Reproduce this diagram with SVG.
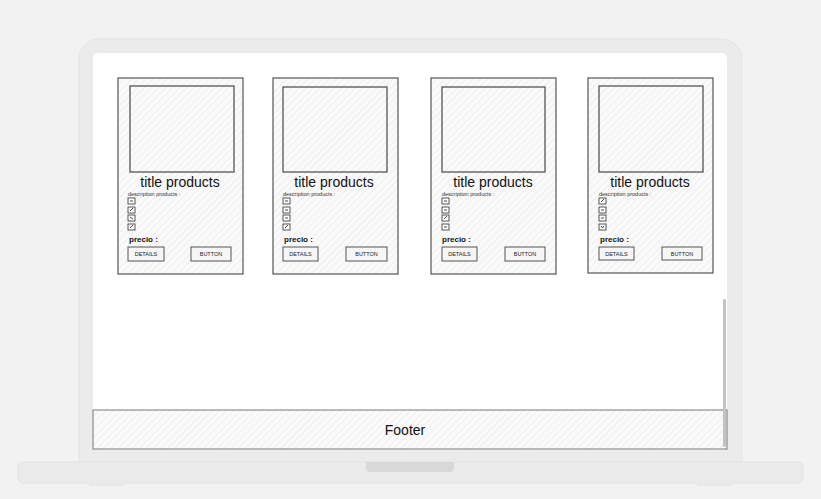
<svg xmlns="http://www.w3.org/2000/svg" width="821" height="499" viewBox="0 0 821 499">
  <style>
    .sk { fill: url(#hatch); stroke: #555; stroke-width: 1.2; }
    .img { fill: none; stroke: #555; stroke-width: 1.3; }
    .btn { fill: #f6f6f6; stroke: #555; stroke-width: 1; }
    .box { fill: #fff; stroke: #444; stroke-width: 0.9; }
    .mark { stroke: #333; stroke-width: 0.9; fill: none; }
    .t { font-family: "Liberation Sans", Arial, sans-serif; fill: #111; }
    .title { font-size: 14px; }
    .desc { font-size: 5.5px; fill: #333; }
    .price { font-size: 8px; font-weight: bold; }
    .bt { font-size: 5.5px; fill: #222; }
  </style>
  <defs>
    <pattern id="hatch" width="5" height="5" patternUnits="userSpaceOnUse" patternTransform="rotate(45)">
      <rect width="5" height="5" fill="#fafafa"/>
      <line x1="0" y1="0" x2="0" y2="5" stroke="#e6e6e6" stroke-width="1.2"/>
    </pattern>
  </defs>

  <!-- backdrop -->
  <rect width="821" height="499" fill="#f2f2f2"/>

  <!-- laptop -->
  <g id="laptop">
    <rect x="79" y="39" width="663" height="440" rx="20" fill="#ebebeb" stroke="#e3e3e3"/>
    <rect x="93" y="53" width="634" height="397" rx="5" fill="#ffffff"/>
    <rect x="18" y="462" width="785" height="21" rx="5" fill="#ebebeb" stroke="#e2e2e2"/>
    <path d="M366 462 H454 V468 a4 4 0 0 1 -4 4 H370 a4 4 0 0 1 -4 -4 Z" fill="#d8d8d8"/>
    <line x1="89" y1="485" x2="124" y2="485" stroke="#dcdcdc"/>
    <line x1="697" y1="485" x2="732" y2="485" stroke="#dcdcdc"/>
  </g>

  <!-- product card 1 -->
  <g id="card1" transform="translate(118,78)">
    <rect class="sk" x="0" y="0" width="125" height="196"/>
    <rect class="img" x="12" y="8" width="104" height="86"/>
    <text class="t title" x="62" y="109" text-anchor="middle">title products</text>
    <text class="t desc" x="10" y="118">description products :</text>
    <rect class="box" x="10" y="120" width="7" height="6"/><path class="mark" d="M12 123 h3"/>
    <rect class="box" x="10" y="129" width="7" height="6"/><path class="mark" d="M12 133 l3 -3"/>
    <rect class="box" x="10" y="137" width="7" height="6"/><path class="mark" d="M12 139 l3 2"/>
    <rect class="box" x="10" y="146" width="7" height="6"/><path class="mark" d="M12 150 l3 -3"/>
    <text class="t price" x="11" y="164">precio :</text>
    <rect class="btn" x="10" y="169" width="36" height="14"/>
    <text class="t bt" x="28" y="178" text-anchor="middle">DETAILS</text>
    <rect class="btn" x="73" y="169" width="40" height="14"/>
    <text class="t bt" x="93" y="178" text-anchor="middle">BUTTON</text>
  </g>

  <!-- product card 2 -->
  <g id="card2" transform="translate(273,78)">
    <rect class="sk" x="0" y="0" width="125" height="196"/>
    <rect class="img" x="10" y="9" width="104" height="85"/>
    <text class="t title" x="61" y="109" text-anchor="middle">title products</text>
    <text class="t desc" x="10" y="118">description products :</text>
    <rect class="box" x="10" y="120" width="7" height="6"/><path class="mark" d="M12 123 h3"/>
    <rect class="box" x="10" y="129" width="7" height="6"/><path class="mark" d="M12 132 h3"/>
    <rect class="box" x="10" y="137" width="7" height="6"/><path class="mark" d="M12 140 h3"/>
    <rect class="box" x="10" y="146" width="7" height="6"/><path class="mark" d="M12 150 l3 -3"/>
    <text class="t price" x="11" y="164">precio :</text>
    <rect class="btn" x="10" y="169" width="35" height="14"/>
    <text class="t bt" x="27.5" y="178" text-anchor="middle">DETAILS</text>
    <rect class="btn" x="73" y="169" width="41" height="14"/>
    <text class="t bt" x="93.5" y="178" text-anchor="middle">BUTTON</text>
  </g>

  <!-- product card 3 -->
  <g id="card3" transform="translate(431,78)">
    <rect class="sk" x="0" y="0" width="125" height="196"/>
    <rect class="img" x="11" y="9" width="103" height="85"/>
    <text class="t title" x="62" y="109" text-anchor="middle">title products</text>
    <text class="t desc" x="11" y="118">description products :</text>
    <rect class="box" x="11" y="120" width="7" height="6"/><path class="mark" d="M13 123 h3"/>
    <rect class="box" x="11" y="129" width="7" height="6"/><path class="mark" d="M13 132 h3"/>
    <rect class="box" x="11" y="137" width="7" height="6"/><path class="mark" d="M13 141 l3 -3"/>
    <rect class="box" x="11" y="146" width="7" height="6"/><path class="mark" d="M13 149 h3"/>
    <text class="t price" x="11" y="164">precio :</text>
    <rect class="btn" x="11" y="169" width="35" height="14"/>
    <text class="t bt" x="28.5" y="178" text-anchor="middle">DETAILS</text>
    <rect class="btn" x="74" y="169" width="40" height="14"/>
    <text class="t bt" x="94" y="178" text-anchor="middle">BUTTON</text>
  </g>

  <!-- product card 4 -->
  <g id="card4" transform="translate(588,78)">
    <rect class="sk" x="0" y="0" width="125" height="195"/>
    <rect class="img" x="11" y="8" width="104" height="86"/>
    <text class="t title" x="62" y="109" text-anchor="middle">title products</text>
    <text class="t desc" x="11" y="118">description products :</text>
    <rect class="box" x="11" y="120" width="7" height="6"/><path class="mark" d="M13 124 l3 -3"/>
    <rect class="box" x="11" y="129" width="7" height="6"/><path class="mark" d="M13 132 h3"/>
    <rect class="box" x="11" y="137" width="7" height="6"/><path class="mark" d="M13 140 h3"/>
    <rect class="box" x="11" y="146" width="7" height="6"/><path class="mark" d="M13 148 l1.5 2 l1.5 -2"/>
    <text class="t price" x="12" y="164">precio :</text>
    <rect class="btn" x="11" y="169" width="35" height="13"/>
    <text class="t bt" x="28.5" y="178" text-anchor="middle">DETAILS</text>
    <rect class="btn" x="74" y="169" width="40" height="13"/>
    <text class="t bt" x="94" y="178" text-anchor="middle">BUTTON</text>
  </g>

  <!-- footer bar -->
  <g id="footer">
    <rect x="93" y="410" width="634" height="39" fill="url(#hatch)" stroke="#777" stroke-width="1"/>
    <text class="t" x="405" y="435" font-size="14" text-anchor="middle">Footer</text>
  </g>

  <!-- scrollbar -->
  <rect id="scrollbar" x="723" y="299" width="3" height="148" rx="1.5" fill="#c2c2c2"/>
</svg>
